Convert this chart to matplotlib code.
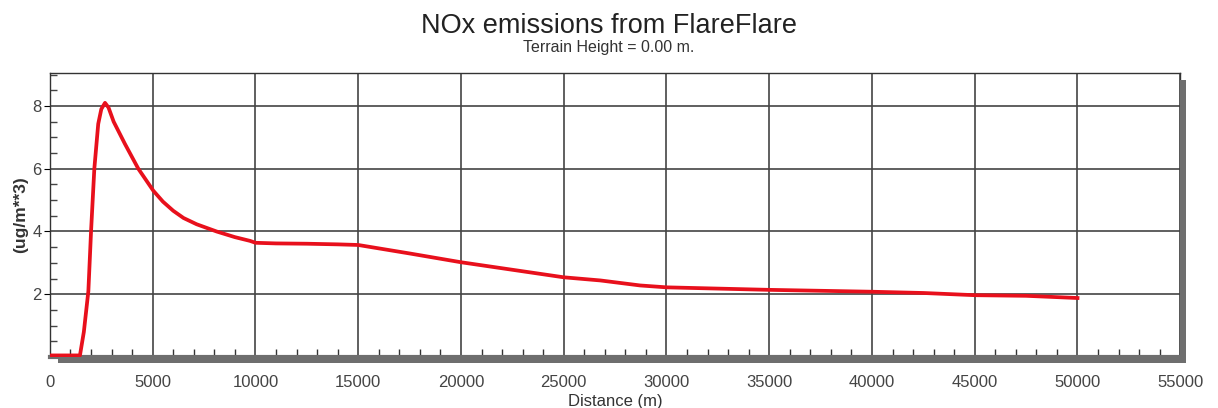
import numpy as np
import matplotlib.pyplot as plt
from matplotlib.patches import Rectangle
from matplotlib.ticker import MultipleLocator

# concentration along the downwind distance
distance = [0, 500, 1000, 1460, 1650, 1870, 2000, 2160, 2350, 2500, 2680, 2850,
            3100, 3650, 4300, 5030, 5500, 6000, 6500, 7140, 8110, 9000, 9740, 10000,
            11000, 12500, 14000, 15000, 17500, 20000, 22500, 25000, 26780,
            28720, 30000, 32500, 35000, 37500, 40000, 42500, 45000, 47500, 50000]
nox = [0.05, 0.05, 0.05, 0.05, 0.8, 2.1, 4.0, 6.0, 7.43, 7.9, 8.1, 7.95,
       7.5, 6.79, 6.0, 5.3, 4.95, 4.66, 4.43, 4.23, 4.0, 3.82, 3.70, 3.64,
       3.62, 3.61, 3.59, 3.57, 3.30, 3.02, 2.78, 2.54, 2.44,
       2.28, 2.22, 2.18, 2.14, 2.11, 2.08, 2.04, 1.97, 1.95, 1.88]

title = "NOx emissions from FlareFlare"
subtitle = "Terrain Height = 0.00 m."

plt.rcParams['font.family'] = ['Liberation Sans', 'DejaVu Sans']

fig = plt.figure(figsize=(12.18, 4.08), dpi=100)
ax = fig.add_axes([0.041, 0.125, 0.928, 0.696])

# drop shadow under the plot frame
fig.patches.append(Rectangle((0.048, 0.110), 0.926, 0.016, transform=fig.transFigure,
                             facecolor='#6e6e6e', edgecolor='none', zorder=0))
fig.patches.append(Rectangle((0.969, 0.110), 0.005, 0.695, transform=fig.transFigure,
                             facecolor='#6e6e6e', edgecolor='none', zorder=0))

ax.plot(distance, nox, color='#e8101c', lw=2.7, zorder=3)

ax.set_xlim(0, 55000)
ax.set_ylim(0, 9.05)
ax.xaxis.set_major_locator(MultipleLocator(5000))
ax.xaxis.set_minor_locator(MultipleLocator(1000))
ax.set_yticks([2, 4, 6, 8])
ax.yaxis.set_minor_locator(MultipleLocator(0.5))

ax.grid(True, which='major', color='#444444', lw=1.2)
ax.tick_params(axis='x', which='major', direction='in', length=0, labelsize=12,
               labelcolor='#444444', pad=13)
ax.tick_params(axis='x', which='minor', direction='in', length=6, width=1, color='#333333')
ax.tick_params(axis='y', which='major', direction='out', length=4, labelsize=12,
               labelcolor='#444444', pad=2)
ax.tick_params(axis='y', which='minor', direction='in', length=5, width=1, color='#444444')
for s in ax.spines.values():
    s.set_color('#333333')
    s.set_linewidth(1)
ax.spines['bottom'].set_color('#6e6e6e')
ax.spines['bottom'].set_linewidth(3)

ax.set_xlabel("Distance (m)", fontsize=12, color='#333333', labelpad=2.5)
ax.set_ylabel("(ug/m**3)", fontsize=12.5, fontweight='bold', color='#333333', labelpad=3)

fig.text(0.5, 0.936, title, ha='center', va='center', fontsize=19.5, color='#222222')
fig.text(0.5, 0.884, subtitle, ha='center', va='center', fontsize=11.5, color='#333333')

fig.savefig('out.png', dpi=100)
